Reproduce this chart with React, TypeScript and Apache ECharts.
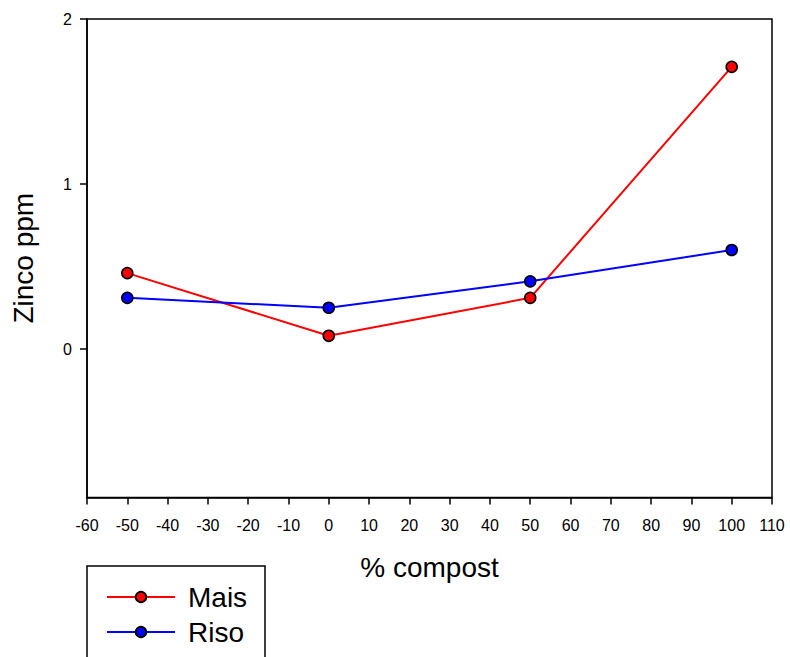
import React, { useEffect, useRef } from "react";
import * as echarts from "echarts";

const xValues = [-50, 0, 50, 100];
const maisValues = [0.46, 0.08, 0.31, 1.71];
const risoValues = [0.31, 0.25, 0.41, 0.6];
const yTickValues = [0, 1, 2];
const seriesNames = ["Mais", "Riso"];

const FONT = "Liberation Sans, Arial, sans-serif";

export default function App() {
  const ref = useRef<HTMLDivElement>(null);
  useEffect(() => {
    if (!ref.current) return;
    const chart = echarts.init(ref.current, null, { renderer: "svg" });
    const markerStyle = (c: string) => ({ color: c, borderColor: "#000", borderWidth: 1.6 });
    chart.setOption({
      animation: false,
      backgroundColor: "#fff",
      textStyle: { fontFamily: FONT },
      grid: {
        left: 87,
        right: 18,
        top: 19,
        bottom: 159.5,
        show: true,
        borderColor: "#000",
        borderWidth: 1.5,
        backgroundColor: "transparent",
      },
      xAxis: {
        type: "value",
        min: -60,
        max: 110,
        interval: 10,
        name: "% compost",
        nameLocation: "middle",
        nameGap: 56,
        nameTextStyle: { fontSize: 28, color: "#000", fontFamily: FONT },
        axisLine: { show: true, onZero: false, lineStyle: { color: "#000", width: 1.5 } },
        axisTick: { show: true, inside: false, length: 7, lineStyle: { color: "#000", width: 1.5 } },
        axisLabel: { fontSize: 16, color: "#000", margin: 20, fontFamily: FONT, showMinLabel: true, showMaxLabel: true },
        splitLine: { show: false },
      },
      yAxis: {
        type: "value",
        min: -0.9,
        max: 2,
        name: "Zinco ppm",
        nameLocation: "middle",
        nameGap: 50,
        nameTextStyle: { fontSize: 28, color: "#000", fontFamily: FONT },
        axisLine: { show: true, onZero: false, lineStyle: { color: "#000", width: 1.5 } },
        axisTick: { show: true, inside: false, length: 7, customValues: yTickValues, lineStyle: { color: "#000", width: 1.5 } },
        axisLabel: { fontSize: 16, color: "#000", margin: 15, fontFamily: FONT, customValues: yTickValues },
        splitLine: { show: false },
      },
      legend: {
        orient: "vertical",
        left: 101,
        top: 578,
        itemWidth: 68,
        itemHeight: 13,
        itemGap: 7,
        data: seriesNames,
        textStyle: { fontSize: 28, color: "#000", fontFamily: FONT, padding: [0, 0, 0, 8], lineHeight: 28 },
      },
      graphic: [
        {
          type: "rect",
          shape: { x: 87, y: 566, width: 178, height: 110 },
          style: { fill: "none", stroke: "#000", lineWidth: 1.5 },
          z: 10,
        },
      ],
      series: [
        {
          name: seriesNames[0],
          type: "line",
          data: xValues.map((x, i) => [x, maisValues[i]]),
          symbol: "circle",
          symbolSize: 11,
          lineStyle: { color: "#ff0000", width: 2 },
          itemStyle: markerStyle("#ff0000"),
        },
        {
          name: seriesNames[1],
          type: "line",
          data: xValues.map((x, i) => [x, risoValues[i]]),
          symbol: "circle",
          symbolSize: 11,
          lineStyle: { color: "#0000ff", width: 2 },
          itemStyle: markerStyle("#0000ff"),
        },
      ],
    });
    return () => chart.dispose();
  }, []);
  return <div ref={ref} style={{ width: 790, height: 657, position: "absolute", left: 0, top: 0 }} />;
}
